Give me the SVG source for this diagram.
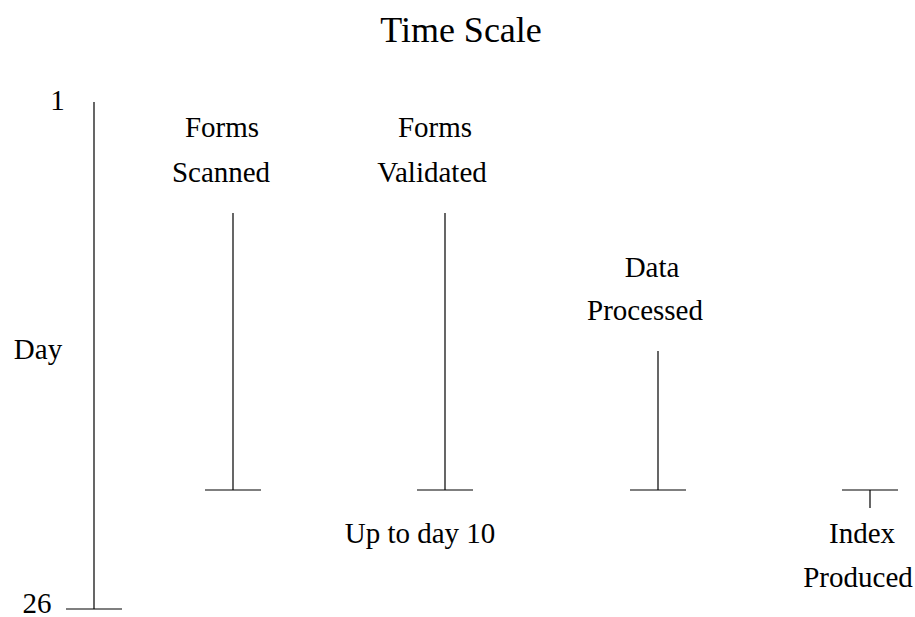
<svg xmlns="http://www.w3.org/2000/svg" width="915" height="617" viewBox="0 0 915 617">
  <style>
    text { font-family: "Liberation Serif", "Times New Roman", serif; fill: #000; }
    .lbl { font-size: 29px; text-anchor: middle; }
    .title { font-size: 36px; text-anchor: middle; }
    .edge line { stroke: #000; stroke-width: 1.2; }
  </style>
  <rect width="915" height="617" fill="#fff"/>

  <text class="title" x="461" y="42">Time Scale</text>

  <!-- time axis -->
  <g id="axis">
    <text class="lbl" x="57.5" y="110">1</text>
    <text class="lbl" x="37" y="613">26</text>
    <text class="lbl" x="38" y="359">Day</text>
  </g>

  <g id="scanned">
    <text class="lbl" x="222" y="137">Forms</text>
    <text class="lbl" x="221" y="182">Scanned</text>
  </g>
  <g id="validated">
    <text class="lbl" x="435" y="137">Forms</text>
    <text class="lbl" x="432" y="182">Validated</text>
    <text class="lbl" x="420" y="543">Up to day 10</text>
  </g>
  <g id="processed">
    <text class="lbl" x="652" y="277">Data</text>
    <text class="lbl" x="645" y="320">Processed</text>
  </g>
  <g id="index">
    <text class="lbl" x="862" y="543">Index</text>
    <text class="lbl" x="858" y="587">Produced</text>
  </g>

  <!-- bars and end ticks -->
  <g class="edge" id="connectors">
    <line x1="94" y1="102" x2="94" y2="609"/>
    <line x1="66" y1="609" x2="122" y2="609"/>

    <line x1="233" y1="213" x2="233" y2="490"/>
    <line x1="205" y1="490" x2="261" y2="490"/>

    <line x1="445" y1="213" x2="445" y2="490"/>
    <line x1="417" y1="490" x2="473" y2="490"/>

    <line x1="658" y1="351" x2="658" y2="490"/>
    <line x1="630" y1="490" x2="686" y2="490"/>

    <line x1="842" y1="490" x2="898" y2="490"/>
    <line x1="870" y1="490" x2="870" y2="508"/>
  </g>
</svg>
